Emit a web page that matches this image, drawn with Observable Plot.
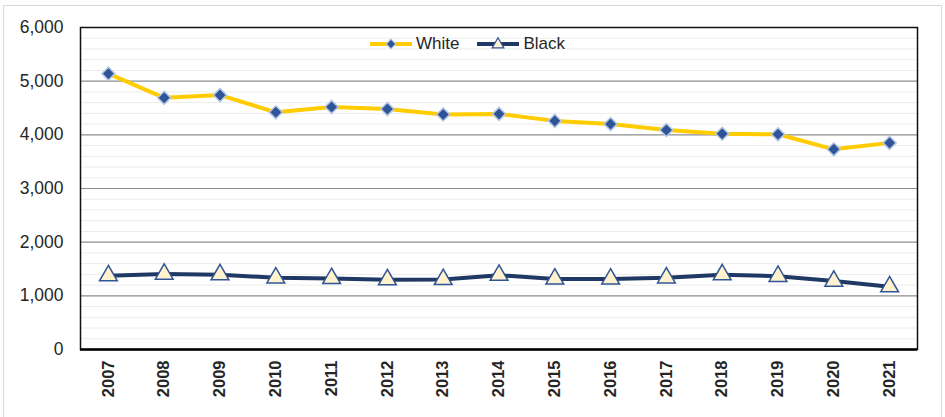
<!DOCTYPE html>
<html>
<head>
<meta charset="utf-8">
<script src="https://cdn.jsdelivr.net/npm/d3@7"></script>
<script src="https://cdn.jsdelivr.net/npm/@observablehq/plot@0.6"></script>
<style>
  body { margin: 0; background: #fff; font-family: "Liberation Sans", Arial, sans-serif; }
  #wrap { position: relative; width: 945px; height: 417px; overflow: hidden; }
  #border { position: absolute; left: 3px; top: 5px; width: 939px; height: 430px; border: 1px solid #d9d9d9; box-sizing: border-box; pointer-events: none; }
  #legend { position: absolute; top: 34px; left: 370px; display: flex; align-items: center; font-size: 17px; color: #262626; height: 20px; }
  #legend .item { display: flex; align-items: center; }
  #legend .item + .item { margin-left: 18px; }
  #legend svg { display: block; margin-right: 4px; }
</style>
</head>
<body>
<div id="wrap">
  <div id="chart"></div>
  <div id="legend"></div>
  <div id="border"></div>
</div>
<script>
// Annual counts by race, 2007–2021
const years = ["2007","2008","2009","2010","2011","2012","2013","2014","2015","2016","2017","2018","2019","2020","2021"];
const white = [5140, 4690, 4740, 4420, 4520, 4480, 4380, 4390, 4260, 4200, 4090, 4020, 4010, 3730, 3850];
const black = [1375, 1405, 1395, 1335, 1325, 1300, 1305, 1385, 1315, 1315, 1335, 1395, 1365, 1275, 1170];
const yTicks = [0, 1000, 2000, 3000, 4000, 5000, 6000];

const colors = {
  white: "#FFCC00",
  black: "#1F3864",
  diamondFill: "#2F5597",
  diamondStroke: "#B4C7E7",
  triFill: "#FFF2CC",
  triStroke: "#2F5597"
};

const whiteRows = years.map((year, i) => ({year, value: white[i]}));
const blackRows = years.map((year, i) => ({year, value: black[i]}));

const minorGrid = d3.range(200, 6000, 200).filter(v => v % 1000 !== 0);
const majorGrid = yTicks.filter(v => v > 0 && v < 6000);

const chart = Plot.plot({
  width: 945,
  height: 417,
  marginLeft: 80,
  marginRight: 28,
  marginTop: 27,
  marginBottom: 68,
  style: { fontFamily: "'Liberation Sans', Arial, sans-serif", background: "transparent" },
  x: { type: "point", domain: years, padding: 0.5, round: false, label: null },
  y: { domain: [0, 6000], label: null },
  marks: [
    Plot.ruleY(minorGrid, { stroke: "#ececec", strokeWidth: 1 }),
    Plot.ruleY(majorGrid, { stroke: "#8c8c8c", strokeWidth: 1.2 }),
    Plot.frame({ stroke: "#111", strokeWidth: 1.5 }),
    Plot.ruleY([0], { stroke: "#000", strokeWidth: 2.5 }),
    Plot.axisY({
      ticks: yTicks, tickFormat: d3.format(","), tickSize: 0, tickPadding: 17,
      fontSize: 17.5, fill: "#262626", label: null
    }),
    Plot.axisX({
      tickRotate: -90, tickSize: 0, tickPadding: 11,
      fontSize: 16.5, fontWeight: "bold", fill: "#262626", label: null
    }),
    Plot.line(whiteRows, { x: "year", y: "value", stroke: colors.white, strokeWidth: 4 }),
    Plot.line(blackRows, { x: "year", y: "value", stroke: colors.black, strokeWidth: 4 }),
    Plot.dot(whiteRows, {
      x: "year", y: "value", symbol: "diamond2", r: 5.9,
      fill: colors.diamondFill, stroke: colors.diamondStroke, strokeWidth: 1.5
    }),
    Plot.dot(blackRows, {
      x: "year", y: "value", symbol: "triangle", r: 6.6,
      fill: colors.triFill, stroke: colors.triStroke, strokeWidth: 1.5
    })
  ]
});
document.getElementById("chart").appendChild(chart);

// Legend: line swatch with the series marker, followed by its name
const legendItems = [
  { name: "White", line: colors.white, symbol: "diamond" },
  { name: "Black", line: colors.black, symbol: "triangle" }
];
const legend = d3.select("#legend");
for (const item of legendItems) {
  const div = legend.append("div").attr("class", "item");
  const svg = div.append("svg").attr("width", 42).attr("height", 20);
  svg.append("line").attr("x1", 0).attr("x2", 42).attr("y1", 10).attr("y2", 10)
    .attr("stroke", item.line).attr("stroke-width", 4);
  if (item.symbol === "diamond") {
    svg.append("path").attr("transform", "translate(21,10)")
      .attr("d", d3.symbol(d3.symbolDiamond2, 60)())
      .attr("fill", colors.diamondFill).attr("stroke", colors.diamondStroke).attr("stroke-width", 1.2);
  } else {
    svg.append("path").attr("transform", "translate(21,10.5)")
      .attr("d", d3.symbol(d3.symbolTriangle, 60)())
      .attr("fill", colors.triFill).attr("stroke", colors.triStroke).attr("stroke-width", 1.2);
  }
  div.append("span").text(item.name);
}
</script>
</body>
</html>
